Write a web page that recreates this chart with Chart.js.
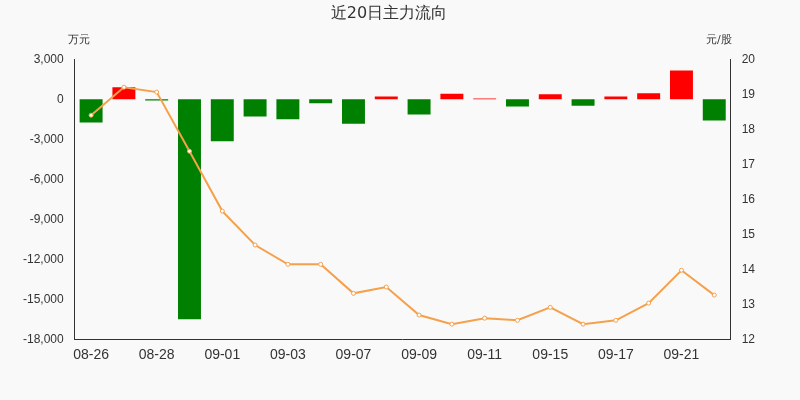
<!DOCTYPE html>
<html>
<head>
<meta charset="utf-8">
<script src="https://cdn.jsdelivr.net/npm/chart.js@4"></script>
<style>
  html, body { margin: 0; padding: 0; background: #f9f9f9; }
  #wrap { width: 800px; height: 400px; position: relative; }
</style>
</head>
<body>
<div id="wrap"><canvas id="c" width="800" height="400"></canvas></div>
<script>
const dates = ['08-26','08-27','08-28','08-31','09-01','09-02','09-03','09-04','09-07','09-08',
               '09-09','09-10','09-11','09-14','09-15','09-16','09-17','09-18','09-21','09-22'];
const flows = [-1750, 900, -100, -16500, -3150, -1300, -1500, -300, -1850, 200,
               -1150, 400, 50, -550, 380, -500, 200, 450, 2150, -1600];
const prices = [18.4, 19.2, 19.06, 17.37, 15.66, 14.69, 14.14, 14.14, 13.31, 13.49,
                12.69, 12.43, 12.6, 12.54, 12.91, 12.43, 12.54, 13.03, 13.97, 13.26];
const leftTicks = [3000, 0, -3000, -6000, -9000, -12000, -15000, -18000];

const unitLabels = {
  id: 'unitLabels',
  afterDraw(chart) {
    const ctx = chart.ctx;
    ctx.save();
    ctx.fillStyle = '#333';
    ctx.font = '11px "DejaVu Sans", sans-serif';
    ctx.textAlign = 'left';
    ctx.fillText('万元', 68, 43);
    ctx.fillText('元/股', 706, 43);
    ctx.restore();
  }
};

new Chart(document.getElementById('c'), {
  data: {
    labels: dates,
    datasets: [
      {
        type: 'line', data: prices, yAxisID: 'y1',
        borderColor: '#f5a04b', borderWidth: 2, backgroundColor: '#fff',
        pointRadius: 2, pointBorderWidth: 1, tension: 0, order: 0
      },
      {
        type: 'bar', data: flows, yAxisID: 'y',
        backgroundColor: flows.map(v => v >= 0 ? '#ff0000' : '#008000'),
        categoryPercentage: 0.7, barPercentage: 1, order: 1
      }
    ]
  },
  options: {
    responsive: false, animation: false,
    layout: { padding: { left: 20, right: 42, top: 0, bottom: 36 } },
    plugins: {
      legend: { display: false }, tooltip: { enabled: false },
      title: { display: true, text: '近20日主力流向', color: '#333',
               font: { size: 16, weight: 'normal', family: '"DejaVu Sans", sans-serif' }, padding: { top: 4, bottom: 36 } }
    },
    scales: {
      x: {
        grid: { display: false },
        border: { color: '#333' },
        ticks: { color: '#333', font: { size: 14 }, maxRotation: 0, autoSkip: false, padding: 0,
                 callback: (v, i) => i % 2 === 0 ? dates[i] : '' }
      },
      y: {
        min: -18000, max: 3000,
        afterBuildTicks: s => { s.ticks = leftTicks.map(v => ({ value: v })); },
        grid: { display: false }, border: { color: '#333' },
        ticks: { color: '#333', font: { size: 12 }, callback: v => v.toLocaleString('en-US') }
      },
      y1: {
        position: 'right', min: 12, max: 20,
        grid: { display: false }, border: { color: '#333' },
        ticks: { color: '#333', font: { size: 12 }, stepSize: 1 }
      }
    }
  },
  plugins: [unitLabels]
});
</script>
</body>
</html>
